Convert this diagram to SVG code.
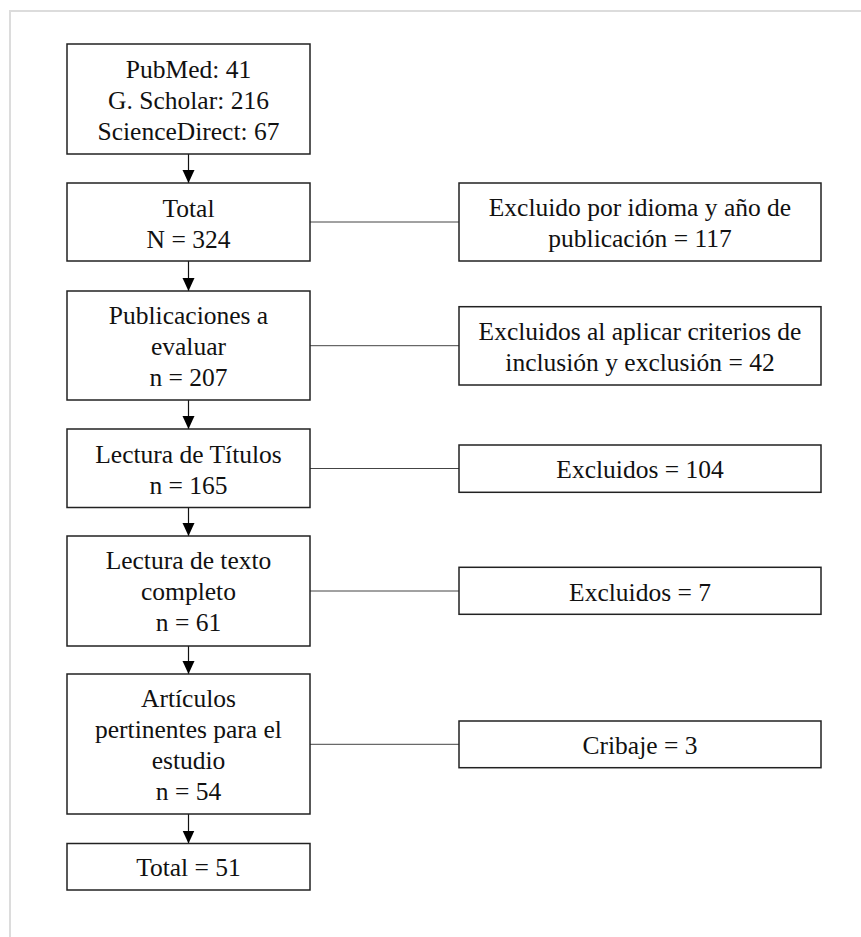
<svg xmlns="http://www.w3.org/2000/svg" width="861" height="937" viewBox="0 0 861 937">
<defs>
<style>
.frame{fill:none;stroke:#dcdcdc;stroke-width:2}
.box{fill:#fff;stroke:#222;stroke-width:1.5}
.t{font-family:"Liberation Serif","Times New Roman",serif;font-size:25.5px;fill:#111;text-anchor:middle}
.link{stroke:#444;stroke-width:1;fill:none}
.arr{stroke:#111;stroke-width:1.2;fill:none}
</style>
<marker id="ah" markerUnits="userSpaceOnUse" markerWidth="14" markerHeight="13" refX="13" refY="6.5" orient="auto" viewBox="0 0 14 13">
<path d="M0,0.5 L13,6.5 L0,12.5 Z" fill="#000"/>
</marker>
</defs>
<rect width="861" height="937" fill="#fff"/>
<rect class="frame" x="10" y="11" width="900" height="1000"/>
<g id="connectors">
<line class="arr" x1="188.5" y1="154" x2="188.5" y2="183" marker-end="url(#ah)"/>
<line class="arr" x1="188.5" y1="261" x2="188.5" y2="291" marker-end="url(#ah)"/>
<line class="arr" x1="188.5" y1="400" x2="188.5" y2="429" marker-end="url(#ah)"/>
<line class="arr" x1="188.5" y1="507.5" x2="188.5" y2="536" marker-end="url(#ah)"/>
<line class="arr" x1="188.5" y1="646" x2="188.5" y2="674" marker-end="url(#ah)"/>
<line class="arr" x1="188.5" y1="814" x2="188.5" y2="843.5" marker-end="url(#ah)"/>
<line class="link" x1="310" y1="222" x2="459" y2="222"/>
<line class="link" x1="310" y1="345.7" x2="459" y2="345.7"/>
<line class="link" x1="310" y1="468.5" x2="459" y2="468.5"/>
<line class="link" x1="310" y1="591" x2="459" y2="591"/>
<line class="link" x1="310" y1="744.3" x2="459" y2="744.3"/>
</g>
<g id="n1"><rect class="box" x="67" y="44" width="243" height="110"/>
<text class="t" x="188.5" y="78">PubMed: 41</text><text class="t" x="188.5" y="109">G. Scholar: 216</text><text class="t" x="188.5" y="140">ScienceDirect: 67</text></g>
<g id="n2"><rect class="box" x="67" y="183" width="243" height="78"/>
<text class="t" x="188.5" y="216.5">Total</text><text class="t" x="188.5" y="247.5">N = 324</text></g>
<g id="n3"><rect class="box" x="67" y="291" width="243" height="109"/>
<text class="t" x="188.5" y="324">Publicaciones a</text><text class="t" x="188.5" y="355">evaluar</text><text class="t" x="188.5" y="386">n = 207</text></g>
<g id="n4"><rect class="box" x="67" y="429" width="243" height="78.5"/>
<text class="t" x="188.5" y="463.3">Lectura de Títulos</text><text class="t" x="188.5" y="494.3">n = 165</text></g>
<g id="n5"><rect class="box" x="67" y="536" width="243" height="110"/>
<text class="t" x="188.5" y="568.5">Lectura de texto</text><text class="t" x="188.5" y="599.5">completo</text><text class="t" x="188.5" y="630.5">n = 61</text></g>
<g id="n6"><rect class="box" x="67" y="674" width="243" height="140"/>
<text class="t" x="188.5" y="707">Artículos</text><text class="t" x="188.5" y="738">pertinentes para el</text><text class="t" x="188.5" y="769">estudio</text><text class="t" x="188.5" y="800">n = 54</text></g>
<g id="n7"><rect class="box" x="67" y="843.5" width="243" height="46.5"/>
<text class="t" x="188.5" y="876.3">Total = 51</text></g>
<g id="r1"><rect class="box" x="459" y="183" width="362" height="78"/>
<text class="t" x="640" y="216.3">Excluido por idioma y año de</text><text class="t" x="640" y="247.3">publicación = 117</text></g>
<g id="r2"><rect class="box" x="459" y="306.7" width="362" height="78.3"/>
<text class="t" x="640" y="340">Excluidos al aplicar criterios de</text><text class="t" x="640" y="371">inclusión y exclusión = 42</text></g>
<g id="r3"><rect class="box" x="459" y="445" width="362" height="47.3"/>
<text class="t" x="640" y="478.3">Excluidos = 104</text></g>
<g id="r4"><rect class="box" x="459" y="567.3" width="362" height="47"/>
<text class="t" x="640" y="600.6">Excluidos = 7</text></g>
<g id="r5"><rect class="box" x="459" y="721" width="362" height="46.7"/>
<text class="t" x="640" y="754.3">Cribaje = 3</text></g>
</svg>
